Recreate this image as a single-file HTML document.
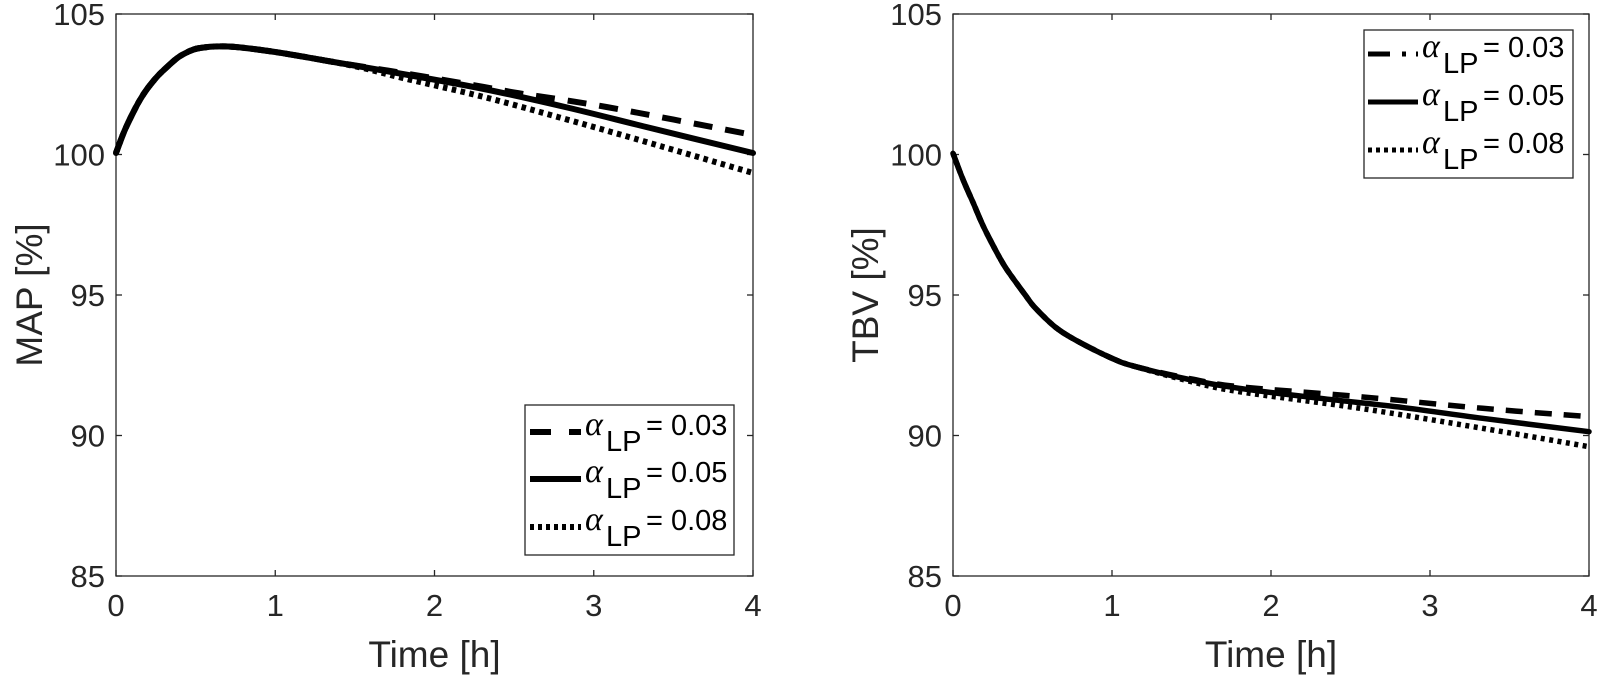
<!DOCTYPE html>
<html><head><meta charset="utf-8"><style>
html,body{margin:0;padding:0;background:#fff;}
svg{display:block;}
text{font-family:"Liberation Sans",sans-serif;fill:#262626;}
.t{font-size:31px;}
.lab{font-size:37px;}
.lg{font-size:29px;fill:#000;}
.al{font-family:"Liberation Serif",serif;font-style:italic;font-size:34px;fill:#000;}
</style></head><body>
<svg id="s" width="1600" height="678" xmlns="http://www.w3.org/2000/svg">
<rect width="1600" height="678" fill="#fff"/>
<g id="g"></g>
</svg>
<script>
const NS="http://www.w3.org/2000/svg";
const g=document.getElementById('g');
function el(n,a,txt){const e=document.createElementNS(NS,n);for(const k in a)e.setAttribute(k,a[k]);if(txt!==undefined)e.textContent=txt;g.appendChild(e);return e;}
function cr(pts){let d="M"+pts[0][0]+","+pts[0][1];for(let i=0;i<pts.length-1;i++){const p0=pts[i-1]||pts[i],p1=pts[i],p2=pts[i+1],p3=pts[i+2]||p2;
const c1=[p1[0]+(p2[0]-p0[0])/6,p1[1]+(p2[1]-p0[1])/6],c2=[p2[0]-(p3[0]-p1[0])/6,p2[1]-(p3[1]-p1[1])/6];
d+=" C"+c1[0].toFixed(1)+","+c1[1].toFixed(1)+" "+c2[0].toFixed(1)+","+c2[1].toFixed(1)+" "+p2[0].toFixed(1)+","+p2[1].toFixed(1);}return d;}
function axes(x0,x1,y0,y1,ylab,lx){
 el('rect',{x:x0,y:y0,width:x1-x0,height:y1-y0,fill:'none',stroke:'#262626','stroke-width':1.3});
 const xs=(x1-x0)/4, ys=(y1-y0)/20;
 for(let i=0;i<=4;i++){const x=x0+i*xs;
  el('line',{x1:x,y1:y1,x2:x,y2:y1-6,stroke:'#262626','stroke-width':1.3});
  el('line',{x1:x,y1:y0,x2:x,y2:y0+6,stroke:'#262626','stroke-width':1.3});
  el('text',{x:x,y:616,'text-anchor':'middle',class:'t'},String(i));}
 [85,90,95,100,105].forEach(v=>{const y=y1-(v-85)*ys;
  el('line',{x1:x0,y1:y,x2:x0+6,y2:y,stroke:'#262626','stroke-width':1.3});
  el('line',{x1:x1,y1:y,x2:x1-6,y2:y,stroke:'#262626','stroke-width':1.3});
  el('text',{x:x0-11,y:y+11,'text-anchor':'end',class:'t'},String(v));});
 el('text',{x:(x0+x1)/2,y:667,'text-anchor':'middle',class:'lab'},'Time [h]');
 el('text',{x:lx,y:(y0+y1)/2,'text-anchor':'middle',class:'lab',transform:`rotate(-90 ${lx} ${(y0+y1)/2})`},ylab);
}
axes(116,753,14,576,'MAP [%]',42);
axes(953,1589,14,576,'TBV [%]',878);
// MAP
const XL=t=>116+t*159.25;
const base=[[0,153],[0.05,132],[0.1,115],[0.15,100],[0.2,88],[0.256,77],[0.3,70],[0.385,58],[0.45,52],[0.51,48.5],[0.62,46.5],[0.75,47],[1.0,52],[1.33,61]];
const mS=base.concat([[1.8,74],[2.31,89],[2.82,107],[3.33,127],[4,153]]);
const mD=base.concat([[1.8,73],[2.31,87],[2.56,94],[3.08,107],[4,135]]);
const mO=base.concat([[1.55,68],[1.8,78],[2.31,97],[2.82,119],[3.33,142],[4,173]]);
const m=p=>p.map(q=>[XL(q[0]),q[1]]);
el('path',{d:cr(m(mD)),fill:'none',stroke:'#000','stroke-width':6,'stroke-dasharray':'19 13'});
el('path',{d:cr(m(mO)),fill:'none',stroke:'#000','stroke-width':6,'stroke-dasharray':'4.5 4.5'});
el('path',{d:cr(m(mS)),fill:'none',stroke:'#000','stroke-width':6,'stroke-linecap':'round'});
// TBV
const XR=t=>953+t*159;
const Y=v=>140+v/3;
const tb=[[0,40],[0.06,115],[0.128,190],[0.19,258],[0.256,320],[0.32,375],[0.385,420],[0.45,462],[0.51,500],[0.64,560],[0.77,600],[1,655],[1.15,680]];
const tS=tb.concat([[1.5,720],[1.8,745],[2.31,775],[2.82,802],[3.33,835],[4,875]]);
const tD=tb.concat([[1.5,717],[1.8,740],[2.56,770],[3.33,805],[4,830]]);
const tO=tb.concat([[1.5,725],[1.8,755],[2.56,805],[3.33,865],[4,920]]);
const r=p=>p.map(q=>[XR(q[0]),Y(q[1])]);
el('path',{d:cr(r(tD)),fill:'none',stroke:'#000','stroke-width':5.5,'stroke-dasharray':'17 12'});
el('path',{d:cr(r(tO)),fill:'none',stroke:'#000','stroke-width':5.5,'stroke-dasharray':'4 4.5'});
el('path',{d:cr(r(tS)),fill:'none',stroke:'#000','stroke-width':5.5,'stroke-linecap':'round'});
// legends
function legend(x0,y0,x1,y1,ys,lx0,lx1,sw,dash){
 el('rect',{x:x0,y:y0,width:x1-x0,height:y1-y0,fill:'#fff',stroke:'#262626','stroke-width':1.3});
 const vals=['0.03','0.05','0.08'],ds=[dash,'none','4 4'];
 ys.forEach((y,i)=>{
  const a={x1:lx0,y1:y,x2:lx1,y2:y,stroke:'#000','stroke-width':sw};if(ds[i]!=='none')a['stroke-dasharray']=ds[i];
  el('line',a);
  el('text',{x:lx1+4,y:y+3,class:'al'},'α');
  el('text',{x:lx1+25,y:y+19,class:'lg','font-size':'26'},'LP');
  el('text',{x:lx1+65,y:y+3,class:'lg'},'= '+vals[i]);
 });
}
legend(525,405,734,555,[432,479,527],530,581,6,'21 18');
legend(1364,30,1573,178,[54,102,150],1368,1418,5,'22 12 4 10');
</script>
</body></html>
